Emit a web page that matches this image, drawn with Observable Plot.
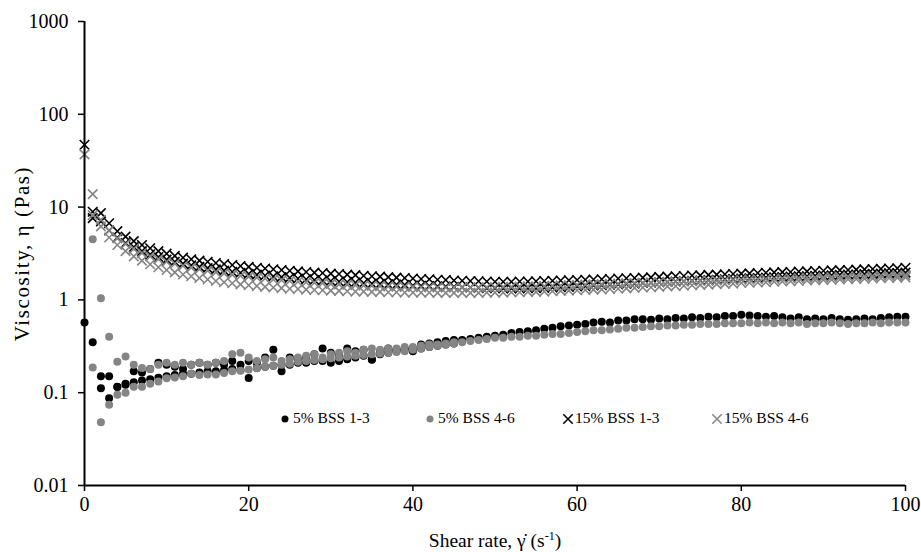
<!DOCTYPE html>
<html>
<head>
<meta charset="utf-8">
<script src="https://cdn.jsdelivr.net/npm/d3@7"></script>
<script src="https://cdn.jsdelivr.net/npm/@observablehq/plot@0.6"></script>
<style>
  html, body { margin: 0; padding: 0; background: #fff; }
  #wrap { position: relative; width: 921px; height: 552px; font-family: "Liberation Serif", "Times New Roman", serif; }
  #legend { position: absolute; top: 408px; left: 0; width: 921px; height: 22px; font-size: 15.5px; color: #000; }
  #legend .item { position: absolute; top: 0; white-space: nowrap; display: flex; align-items: center; }
  #legend svg { margin-right: 1px; }
</style>
</head>
<body>
<div id="wrap"><div id="legend"></div></div>
<script>
// Shear rate (s^-1)
const shearRate = [0,1,2,3,4,5,6,7,8,9,10,11,12,13,14,15,16,17,18,19,20,21,22,23,24,25,26,27,28,29,30,31,32,33,34,35,36,37,38,39,40,41,42,43,44,45,46,47,48,49,50,51,52,53,54,55,56,57,58,59,60,61,62,63,64,65,66,67,68,69,70,71,72,73,74,75,76,77,78,79,80,81,82,83,84,85,86,87,88,89,90,91,92,93,94,95,96,97,98,99,100];

// 5% BSS 1-3 (black dots) – two runs
const bss5_13_a = [0.57,0.35,0.15,0.15,0.115,0.125,0.17,0.165,0.18,0.21,
0.2,0.19,0.18,0.2,0.21,0.2,0.21,0.2,0.22,0.2,
0.22,0.21,0.24,0.29,0.17,0.24,0.23,0.24,0.26,0.3,
0.27,0.25,0.3,0.28,0.29,0.23,0.28,0.3,0.29,0.3,
0.3,0.33,0.34,0.35,0.36,0.37,0.37,0.38,0.39,0.4,
0.41,0.42,0.44,0.45,0.46,0.47,0.49,0.5,0.52,0.53,
0.54,0.55,0.57,0.58,0.57,0.6,0.6,0.62,0.62,0.61,
0.63,0.62,0.64,0.63,0.65,0.64,0.66,0.65,0.67,0.67,
0.69,0.68,0.67,0.66,0.67,0.65,0.63,0.65,0.62,0.63,
0.62,0.64,0.62,0.61,0.62,0.63,0.62,0.64,0.65,0.66,
0.66];
const bss5_13_b = [null,null,0.112,0.087,0.116,0.122,0.13,0.135,0.14,0.145,
0.15,0.155,0.16,0.16,0.165,0.17,0.17,0.175,0.18,0.175,
0.144,0.185,0.19,0.195,0.2,0.2,0.21,0.21,0.22,0.22,
0.21,0.22,0.23,0.24,0.25,0.226,0.26,0.27,0.28,0.29,
0.28,0.3,0.31,0.32,0.33,0.34];

// 5% BSS 4-6 (grey dots) – two runs
const bss5_46_a = [null,4.5,1.04,0.4,0.216,0.245,0.2,0.185,0.18,0.2,
0.21,0.2,0.21,0.2,0.21,0.2,0.21,0.22,0.26,0.27,
0.24,0.22,0.23,0.24,0.22,0.23,0.24,0.25,0.26,0.24,
0.26,0.27,0.28,0.27,0.29,0.3,0.29,0.3,0.3,0.31,
0.31,0.32,0.33,0.33,0.34,0.35,0.35,0.36,0.37,0.38,
0.39,0.39,0.4,0.4,0.41,0.41,0.42,0.43,0.43,0.44,
0.45,0.46,0.47,0.47,0.48,0.49,0.5,0.5,0.51,0.52,
0.52,0.53,0.53,0.54,0.54,0.55,0.55,0.55,0.56,0.56,
0.56,0.57,0.56,0.57,0.56,0.57,0.56,0.57,0.55,0.56,
0.56,0.57,0.56,0.55,0.56,0.56,0.57,0.56,0.57,0.57,
0.57];
const bss5_46_b = [null,0.187,0.048,0.074,0.095,0.1,0.116,0.116,0.125,0.132,
0.143,0.146,0.15,0.16,0.155,0.157,0.157,0.163,0.17,0.172,
0.178,0.183,0.19,0.195,0.2,0.205,0.215,0.22,0.225,0.23,
0.235,0.24,0.245,0.25,0.255,0.26,0.265,0.27,0.275,0.28,
0.29,0.3,0.31,0.32,0.33,0.34];

// 15% BSS 1-3 (black crosses) – two runs
const bss15_13_a = [47,8.9,8.6,6.7,5.5,4.8,4.3,3.9,3.6,3.35,
3.15,2.98,2.85,2.74,2.65,2.58,2.5,2.44,2.38,2.32,
2.27,2.22,2.18,2.14,2.1,2.06,2.03,2.0,1.97,1.95,
1.92,1.9,1.87,1.85,1.82,1.8,1.78,1.76,1.74,1.72,
1.7,1.68,1.67,1.65,1.64,1.62,1.61,1.6,1.59,1.58,
1.57,1.57,1.57,1.58,1.58,1.59,1.6,1.61,1.62,1.63,
1.64,1.65,1.66,1.67,1.68,1.7,1.71,1.72,1.74,1.75,
1.77,1.78,1.8,1.81,1.83,1.84,1.86,1.87,1.89,1.9,
1.92,1.93,1.95,1.96,1.98,1.99,2.0,2.02,2.03,2.05,
2.06,2.08,2.09,2.1,2.12,2.13,2.15,2.16,2.18,2.19,
2.22];
const bss15_13_b = [null,7.6,7.0,5.6,4.7,4.1,3.7,3.35,3.1,2.9,
2.72,2.58,2.46,2.36,2.27,2.2,2.13,2.07,2.01,1.96,
1.91,1.87,1.83,1.79,1.76,1.73,1.7,1.67,1.64,1.62,
1.6,1.58,1.56,1.54,1.52,1.5,1.49,1.47,1.46,1.45,
1.43,1.42,1.41,1.4,1.39,1.38,1.37,1.36,1.35,1.34,
1.34,1.33,1.33,1.33,1.34,1.34,1.35,1.36,1.37,1.38,
1.4,1.41,1.43,1.44,1.46,1.47,1.49,1.5,1.52,1.53,
1.55,1.56,1.58,1.59,1.61,1.62,1.64,1.65,1.67,1.68,
1.7,1.71,1.72,1.74,1.75,1.76,1.78,1.79,1.8,1.82,
1.83,1.84,1.86,1.87,1.88,1.9,1.91,1.92,1.94,1.95,
1.97];

// 15% BSS 4-6 (grey crosses) – two runs
const bss15_46_a = [37,13.8,7.3,5.6,4.6,4.0,3.55,3.2,2.95,2.75,
2.58,2.45,2.33,2.23,2.14,2.06,1.99,1.93,1.87,1.82,
1.78,1.74,1.7,1.66,1.63,1.6,1.57,1.55,1.53,1.51,
1.49,1.47,1.46,1.44,1.43,1.42,1.41,1.4,1.39,1.38,
1.38,1.37,1.37,1.36,1.36,1.36,1.36,1.36,1.36,1.37,
1.37,1.38,1.38,1.39,1.4,1.4,1.41,1.42,1.43,1.44,
1.45,1.46,1.47,1.48,1.49,1.5,1.51,1.52,1.53,1.54,
1.55,1.56,1.57,1.58,1.59,1.6,1.61,1.62,1.63,1.64,
1.65,1.66,1.67,1.68,1.69,1.7,1.71,1.72,1.73,1.74,
1.75,1.76,1.77,1.78,1.79,1.8,1.81,1.82,1.83,1.84,
1.85];
const bss15_46_b = [null,8.2,6.2,4.7,3.9,3.35,2.95,2.65,2.42,2.25,
2.1,1.98,1.88,1.8,1.72,1.66,1.6,1.55,1.51,1.47,
1.44,1.41,1.38,1.36,1.34,1.32,1.31,1.29,1.28,1.27,
1.26,1.25,1.24,1.23,1.23,1.22,1.22,1.21,1.21,1.2,
1.2,1.2,1.2,1.19,1.19,1.19,1.19,1.19,1.19,1.2,
1.2,1.2,1.21,1.21,1.22,1.22,1.23,1.24,1.25,1.26,
1.27,1.28,1.29,1.3,1.31,1.32,1.33,1.35,1.36,1.37,
1.38,1.4,1.41,1.42,1.44,1.45,1.46,1.48,1.49,1.5,
1.52,1.53,1.54,1.55,1.57,1.58,1.59,1.6,1.62,1.63,
1.64,1.65,1.66,1.67,1.68,1.69,1.7,1.71,1.72,1.73,
1.75];

const seriesNames = ["5% BSS 1-3", "5% BSS 4-6", "15% BSS 1-3", "15% BSS 4-6"];
const yTicks = [0.01, 0.1, 1, 10, 100, 1000];
const xTicks = [0, 20, 40, 60, 80, 100];

function rows(...runs) {
  const out = [];
  for (const run of runs) run.forEach((v, i) => { if (v != null) out.push({x: shearRate[i], v}); });
  return out;
}

const BLACK = "#000000", GREY = "#858585";
const serif = '"Liberation Serif", "Times New Roman", serif';

const chart = Plot.plot({
  width: 921, height: 552,
  marginLeft: 84, marginRight: 16, marginTop: 21, marginBottom: 67,
  style: {fontFamily: serif, fontSize: "20px", color: "#000", background: "#fff", overflow: "visible"},
  x: {domain: [0, 100]},
  y: {type: "log", domain: [0.01, 1000]},
  marks: [
    Plot.axisY({ticks: yTicks, tickFormat: d => String(d), tickSize: 6, tickPadding: 10, strokeWidth: 1.5,
      label: "Viscosity", labelAnchor: "center", labelOffset: 70}),
    Plot.axisX({ticks: xTicks, tickFormat: d => String(d), tickSize: 6, tickPadding: 5, strokeWidth: 1.5,
      label: "Shear rate", labelAnchor: "center", labelOffset: 61}),
    Plot.dot(rows(bss5_13_a, bss5_13_b), {x: "x", y: "v", r: 4, fill: BLACK, symbol: "circle"}),
    Plot.dot(rows(bss5_46_a, bss5_46_b), {x: "x", y: "v", r: 4, fill: GREY, symbol: "circle"}),
    Plot.dot(rows(bss15_13_a, bss15_13_b), {x: "x", y: "v", r: 4.4, stroke: BLACK, strokeWidth: 1.6, symbol: "times"}),
    Plot.dot(rows(bss15_46_a, bss15_46_b), {x: "x", y: "v", r: 4.4, stroke: GREY, strokeWidth: 1.6, symbol: "times"}),
    Plot.ruleX([0], {stroke: "#000", strokeWidth: 2}),
    Plot.ruleY([0.01], {stroke: "#000", strokeWidth: 2})
  ]
});

// axis titles with proper symbols / superscript
const yl = chart.querySelector('[aria-label="y-axis label"] text');
if (yl) { yl.textContent = "Viscosity, η (Pas)"; yl.setAttribute("font-size", "21px"); yl.setAttribute("letter-spacing", "1.6px"); }
const xl = chart.querySelector('[aria-label="x-axis label"] text');
if (xl) {
  xl.setAttribute("font-size", "19.5px");
  const s = d3.select(xl); s.text(null);
  s.append("tspan").text("Shear rate, γ̇ (s");
  s.append("tspan").attr("dy", "-7").attr("font-size", "12px").text("-1");
  s.append("tspan").attr("dy", "7").text(")");
}

const wrap = document.getElementById("wrap");
wrap.insertBefore(chart, wrap.firstChild);

// legend
const legend = d3.select("#legend");
const legendLeft = [280, 425, 562, 711];
const legendSym = [["circle", BLACK, true], ["circle", GREY, true], ["times", BLACK, false], ["times", GREY, false]];
seriesNames.forEach((name, i) => {
  const item = legend.append("div").attr("class", "item").style("left", legendLeft[i] + "px");
  const sv = item.append("svg").attr("width", 12).attr("height", 20);
  const [sym, col, filled] = legendSym[i];
  if (filled) {
    sv.append("circle").attr("cx", 5).attr("cy", 11).attr("r", 3.5).attr("fill", col);
  } else {
    sv.append("path").attr("transform", "translate(6,11)")
      .attr("d", d3.symbol(d3.symbolTimes, 60)()).attr("stroke", col).attr("stroke-width", 1.5).attr("fill", "none");
  }
  item.append("span").text(name);
});
</script>
</body>
</html>
